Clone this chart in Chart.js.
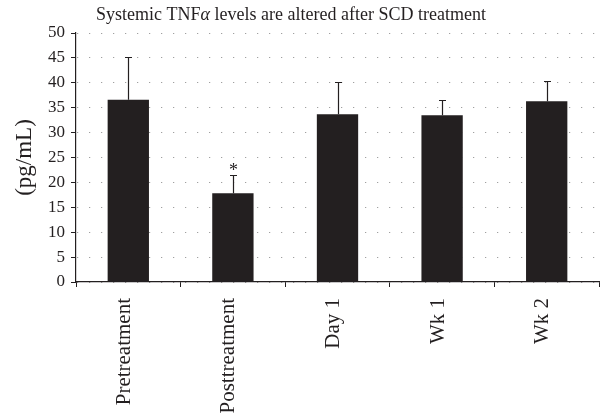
<!DOCTYPE html>
<html>
<head>
<meta charset="utf-8">
<script src="https://cdn.jsdelivr.net/npm/chart.js@4/dist/chart.umd.min.js"></script>
<style>
  html, body { margin: 0; padding: 0; background: #ffffff; }
  #wrap { width: 603px; height: 417px; position: relative; }
</style>
</head>
<body>
<div id="wrap"><canvas id="chart" width="603" height="417"></canvas></div>
<script>
// Serum TNF-alpha (pg/mL) at each sampling time point
const categories = ['Pretreatment', 'Posttreatment', 'Day 1', 'Wk 1', 'Wk 2'];
const meanValues = [36.6, 17.8, 33.7, 33.5, 36.3];
const errorValues = [8.6, 3.7, 6.5, 3.0, 4.1];
const significant = [false, true, false, false, false];
const yTicks = [0, 5, 10, 15, 20, 25, 30, 35, 40, 45, 50];

const INK = '#231f20';
const SERIF = '"Liberation Serif", "Times New Roman", serif';

// Title with an italic Greek alpha
const titlePlugin = {
  id: 'mixedTitle',
  afterDraw(chart) {
    const ctx = chart.ctx;
    const parts = [
      { t: 'Systemic TNF', f: '18px ' + SERIF },
      { t: '\u03b1', f: 'italic 18px ' + SERIF },
      { t: ' levels are altered after SCD treatment', f: '18px ' + SERIF }
    ];
    ctx.save();
    ctx.fillStyle = INK;
    ctx.textBaseline = 'alphabetic';
    ctx.textAlign = 'left';
    let total = 0;
    parts.forEach(p => { ctx.font = p.f; p.w = ctx.measureText(p.t).width; total += p.w; });
    let x = 291 - total / 2;
    parts.forEach(p => { ctx.font = p.f; ctx.fillText(p.t, x, 20); x += p.w; });
    ctx.restore();
  }
};

// Upper error whiskers and significance marks
const errorBarPlugin = {
  id: 'errorBars',
  afterDatasetsDraw(chart) {
    const ctx = chart.ctx;
    const meta = chart.getDatasetMeta(0);
    const yScale = chart.scales.y;
    ctx.save();
    ctx.strokeStyle = INK;
    ctx.fillStyle = INK;
    ctx.lineWidth = 1.2;
    meta.data.forEach((bar, i) => {
      const x = Math.round(bar.x) + 0.5;
      const yBase = yScale.getPixelForValue(meanValues[i]);
      const yTop = Math.round(yScale.getPixelForValue(meanValues[i] + errorValues[i])) + 0.5;
      ctx.beginPath();
      ctx.moveTo(x, yBase);
      ctx.lineTo(x, yTop);
      ctx.moveTo(x - 3.5, yTop);
      ctx.lineTo(x + 3.5, yTop);
      ctx.stroke();
      if (significant[i]) {
        ctx.font = '18px ' + SERIF;
        ctx.textAlign = 'center';
        ctx.textBaseline = 'alphabetic';
        ctx.fillText('*', x, yTop);
      }
    });
    ctx.restore();
  }
};

new Chart(document.getElementById('chart'), {
  type: 'bar',
  data: {
    labels: categories,
    datasets: [{
      data: meanValues,
      backgroundColor: INK,
      borderWidth: 0,
      categoryPercentage: 1.0,
      barPercentage: 0.395
    }]
  },
  options: {
    responsive: false,
    animation: false,
    devicePixelRatio: 1,
    layout: { padding: { left: 0, right: 4, top: 33, bottom: 0 } },
    plugins: {
      legend: { display: false },
      tooltip: { enabled: false },
      title: { display: false }
    },
    scales: {
      x: {
        offset: true,
        grid: {
          offset: true,
          drawOnChartArea: false,
          drawTicks: true,
          tickLength: 5,
          tickColor: INK,
          tickWidth: 1
        },
        border: { display: true, color: INK, width: 1.2 },
        ticks: {
          color: INK,
          font: { family: SERIF, size: 21 },
          minRotation: 90,
          maxRotation: 90,
          autoSkip: false,
          padding: 11,
          labelOffset: -4
        },
        afterFit(scale) { scale.height = 135; }
      },
      y: {
        min: 0,
        max: 50,
        afterBuildTicks(scale) { scale.ticks = yTicks.map(v => ({ value: v })); },
        grid: {
          color: '#8a8a8a',
          lineWidth: 1,
          drawTicks: true,
          tickLength: 5,
          tickColor: INK,
          tickWidth: 1
        },
        border: { display: true, color: INK, width: 1.2, dash: [1, 11], dashOffset: 11 },
        ticks: {
          color: INK,
          font: { family: SERIF, size: 17 },
          padding: 6
        },
        title: {
          display: true,
          text: '(pg/mL)',
          color: INK,
          font: { family: SERIF, size: 23 },
          padding: { top: 11, bottom: 0 }
        },
        afterFit(scale) { scale.width = 76; }
      }
    }
  },
  plugins: [titlePlugin, errorBarPlugin]
});
</script>
</body>
</html>
